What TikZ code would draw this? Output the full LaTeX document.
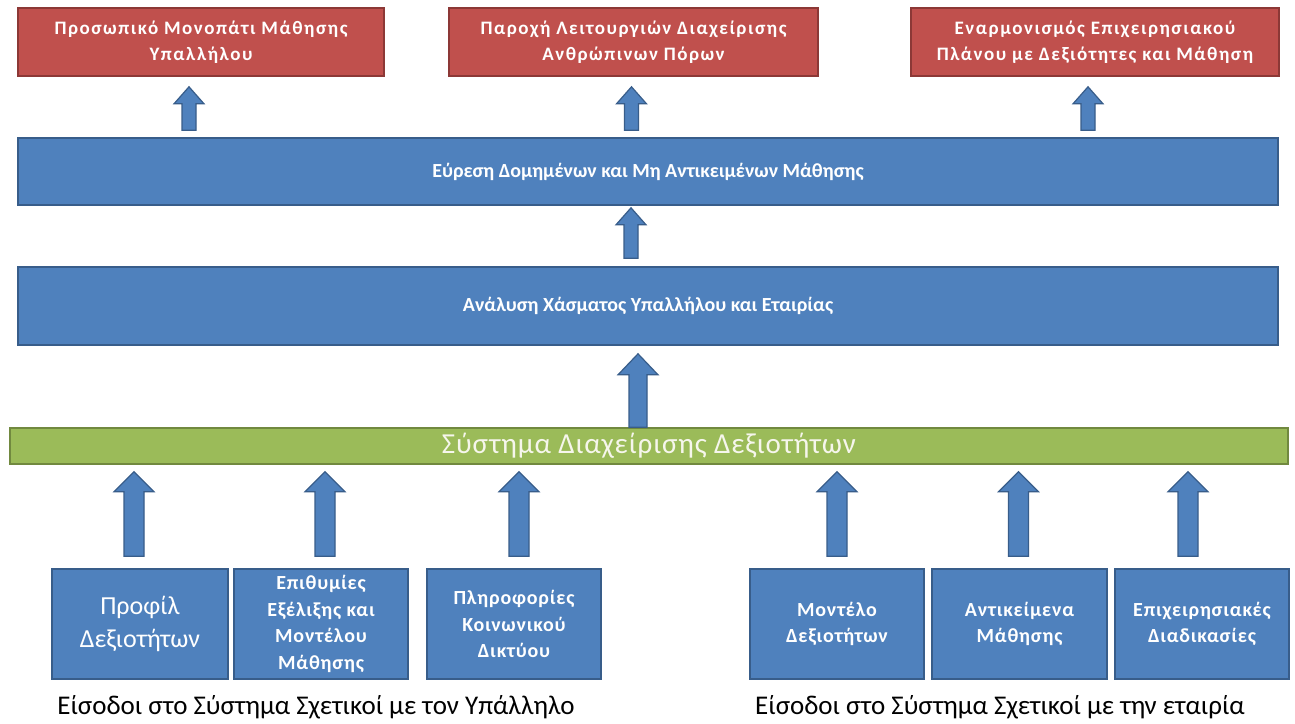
\documentclass[tikz,border=0pt]{standalone}
\usepackage{fontspec}
\setmainfont{Carlito}
\usetikzlibrary{calc}

\definecolor{redfill}{HTML}{C0504D}
\definecolor{redline}{HTML}{8C3836}
\definecolor{bluefill}{HTML}{4F81BD}
\definecolor{blueline}{HTML}{385D8A}
\definecolor{greenfill}{HTML}{9BBB59}
\definecolor{greenline}{HTML}{71893F}
\definecolor{greentext}{HTML}{F6F6EC}

\tikzset{
  outbox/.style={draw=redline, line width=1.6pt, fill=redfill, text=white,
    align=center, inner sep=0pt, minimum height=68pt,
    font=\fontsize{19}{26}\selectfont\bfseries\addfontfeatures{LetterSpace=8}},
  widebar/.style={draw=blueline, line width=1.6pt, fill=bluefill, text=white,
    align=center, inner sep=0pt, minimum width=1260pt,
    font=\fontsize{20}{24}\selectfont\bfseries},
  sysbar/.style={draw=greenline, line width=1.6pt, fill=greenfill, text=greentext,
    align=center, inner sep=0pt, minimum width=1278pt, minimum height=36pt,
    font=\fontsize{29}{32}\selectfont\addfontfeatures{LetterSpace=3}},
  inbox/.style={draw=blueline, line width=1.6pt, fill=bluefill, text=white,
    align=center, inner sep=0pt, minimum height=110pt,
    font=\fontsize{20}{26.5}\selectfont\bfseries\addfontfeatures{LetterSpace=4}},
  caption/.style={text=black, inner sep=0pt, font=\fontsize{27}{30}\selectfont},
  blockarrow/.style={fill=bluefill, draw=blueline, line width=1.2pt, line join=miter},
}

% Upward block arrow: #1 foot, #2 tip, #3 half shaft width,
% #4 half head width, #5 head length (canvas units)
\newcommand\upblock[5]{%
  \path[blockarrow] let \p1=(#1), \p2=(#2) in
    ({\x1-#3},{\y1}) -- ({\x1-#3},{\y2-#5}) -- ({\x1-#4},{\y2-#5}) -- ({\x1},{\y2})
    -- ({\x1+#4},{\y2-#5}) -- ({\x1+#3},{\y2-#5}) -- ({\x1+#3},{\y1}) -- cycle;}

\begin{document}
\begin{tikzpicture}[x=1pt,y=-1pt]
\useasboundingbox (0,0) rectangle (1295,723);
\fill[white] (0,0) rectangle (1295,723);

% outputs
\node[outbox, minimum width=366pt] (r1) at (201,42)
  {Προσωπικό Μονοπάτι Μάθησης\\Υπαλλήλου};
\node[outbox, minimum width=369pt] (r2) at (633.5,42)
  {Παροχή Λειτουργιών Διαχείρισης\\Ανθρώπινων Πόρων};
\node[outbox, minimum width=368pt] (r3) at (1095,42)
  {Εναρμονισμός Επιχειρησιακού\\Πλάνου με Δεξιότητες και Μάθηση};

% processing stages
\node[widebar, minimum height=67pt] (bar1) at (648,171.5)
  {Εύρεση Δομημένων και Μη Αντικειμένων Μάθησης};
\node[widebar, minimum height=78pt] (bar2) at (648,306)
  {Ανάλυση Χάσματος Υπαλλήλου και Εταιρίας};

% competence management system
\node[sysbar] (sys) at (649,446) {Σύστημα Διαχείρισης Δεξιοτήτων};

% inputs
\node[inbox, minimum width=176pt, font=\fontsize{26}{33}\selectfont] (b1) at (140,624)
  {Προφίλ\\Δεξιοτήτων};
\node[inbox, minimum width=174pt] (b2) at (321,624)
  {Επιθυμίες\\Εξέλιξης και\\Μοντέλου\\Μάθησης};
\node[inbox, minimum width=174pt] (b3) at (514,624)
  {Πληροφορίες\\Κοινωνικού\\Δικτύου};
\node[inbox, minimum width=174pt] (b4) at (837,624)
  {Μοντέλο\\Δεξιοτήτων};
\node[inbox, minimum width=175pt] (b5) at (1019.5,624)
  {Αντικείμενα\\Μάθησης};
\node[inbox, minimum width=174pt] (b6) at (1202,624)
  {Επιχειρησιακές\\Διαδικασίες};

\node[caption] (c1) at (316,707) {Είσοδοι στο Σύστημα Σχετικοί με τον Υπάλληλο};
\node[caption] (c2) at (1000,707) {Είσοδοι στο Σύστημα Σχετικοί με την εταιρία};

% arrow ends
\coordinate (a1f) at ($(r1.south |- bar1.north)+(-12,-7)$);
\coordinate (a1t) at ($(r1.south)+(-12,10)$);
\coordinate (a2f) at ($(r2.south |- bar1.north)+(-2,-7)$);
\coordinate (a2t) at ($(r2.south)+(-2,10)$);
\coordinate (a3f) at ($(r3.south |- bar1.north)+(-7,-7)$);
\coordinate (a3t) at ($(r3.south)+(-7,10)$);
\coordinate (m1f) at ($(bar2.north)+(-17,-8)$);
\coordinate (m1t) at ($(bar1.south)+(-17,2)$);
\coordinate (m2f) at ($(sys.north)+(-11,0)$);
\coordinate (m2t) at ($(bar2.south)+(-11,8)$);
\coordinate (i1f) at ($(b1.north)+(-6,-12)$);
\coordinate (i1t) at ($(b1.north |- sys.south)+(-6,7)$);
\coordinate (i2f) at ($(b2.north)+(4,-12)$);
\coordinate (i2t) at ($(b2.north |- sys.south)+(4,7)$);
\coordinate (i3f) at ($(b3.north)+(5,-12)$);
\coordinate (i3t) at ($(b3.north |- sys.south)+(5,7)$);
\coordinate (i4f) at ($(b4.north)+(0,-12)$);
\coordinate (i4t) at ($(b4.north |- sys.south)+(0,7)$);
\coordinate (i5f) at ($(b5.north)+(-1,-12)$);
\coordinate (i5t) at ($(b5.north |- sys.south)+(-1,7)$);
\coordinate (i6f) at ($(b6.north)+(-14,-12)$);
\coordinate (i6t) at ($(b6.north |- sys.south)+(-14,7)$);

% block arrows
\upblock{a1f}{a1t}{7pt}{15pt}{17pt}
\upblock{a2f}{a2t}{7pt}{15pt}{17pt}
\upblock{a3f}{a3t}{7pt}{15pt}{17pt}
\upblock{m1f}{m1t}{7pt}{15pt}{17pt}
\upblock{m2f}{m2t}{9pt}{20pt}{21pt}
\upblock{i1f}{i1t}{10pt}{20pt}{20pt}
\upblock{i2f}{i2t}{10pt}{20pt}{20pt}
\upblock{i3f}{i3t}{10pt}{20pt}{20pt}
\upblock{i4f}{i4t}{10pt}{20pt}{20pt}
\upblock{i5f}{i5t}{10pt}{20pt}{20pt}
\upblock{i6f}{i6t}{10pt}{20pt}{20pt}
\end{tikzpicture}
\end{document}
